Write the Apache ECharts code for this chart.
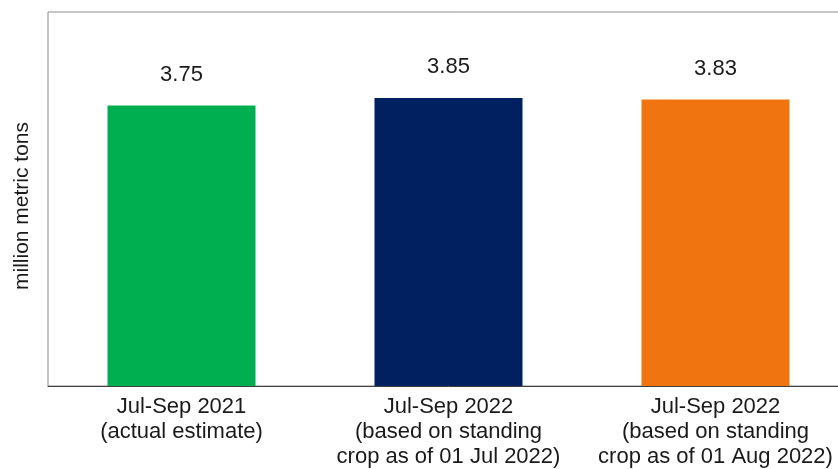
<!DOCTYPE html>
<html>
<head>
<meta charset="utf-8">
<script src="https://cdn.jsdelivr.net/npm/echarts@6/dist/echarts.min.js"></script>
<style>html,body{margin:0;padding:0;background:#fff;overflow:hidden;width:838px;height:469px}#c{width:850px;height:469px}</style>
</head>
<body>
<div id="c"></div>
<script>
const categories = [
  "Jul-Sep 2021\n(actual estimate)",
  "Jul-Sep 2022\n(based on standing\ncrop as of 01 Jul 2022)",
  "Jul-Sep 2022\n(based on standing\ncrop as of 01 Aug 2022)"
];
const values = [3.75, 3.85, 3.83];
const barColors = ["#00B050", "#002060", "#F07410"];
const yAxisTitle = "million metric tons";

const chart = echarts.init(document.getElementById('c'));
chart.setOption({
  animation: false,
  backgroundColor: '#fff',
  grid: { left: 48, top: 12, right: 1, height: 375, show: true, borderColor: '#8c8c8c', borderWidth: 1, containLabel: false },
  xAxis: {
    type: 'category',
    data: categories,
    axisLine: { lineStyle: { color: '#404040', width: 1 } },
    axisTick: { show: false },
    axisLabel: { color: '#1a1a1a', fontFamily: 'Liberation Sans, Arial', fontSize: 22, lineHeight: 25, margin: 8, interval: 0 }
  },
  yAxis: {
    type: 'value', min: 0, max: 5,
    axisLine: { show: false }, axisTick: { show: false }, axisLabel: { show: false }, splitLine: { show: false }
  },
  graphic: [{
    type: 'text',
    x: 22, y: 206, rotation: Math.PI / 2,
    style: { text: yAxisTitle, fontFamily: 'Liberation Sans, Arial', fontSize: 21, fill: '#1a1a1a', textAlign: 'center', textVerticalAlign: 'middle' }
  }],
  series: [{
    type: 'bar',
    data: values.map((v, i) => ({ value: v, itemStyle: { color: barColors[i] } })),
    barWidth: 148,
    label: { show: true, position: 'top', distance: 20, formatter: p => p.value.toFixed(2), color: '#1a1a1a', fontFamily: 'Liberation Sans, Arial', fontSize: 22 }
  }]
});
</script>
</body>
</html>
